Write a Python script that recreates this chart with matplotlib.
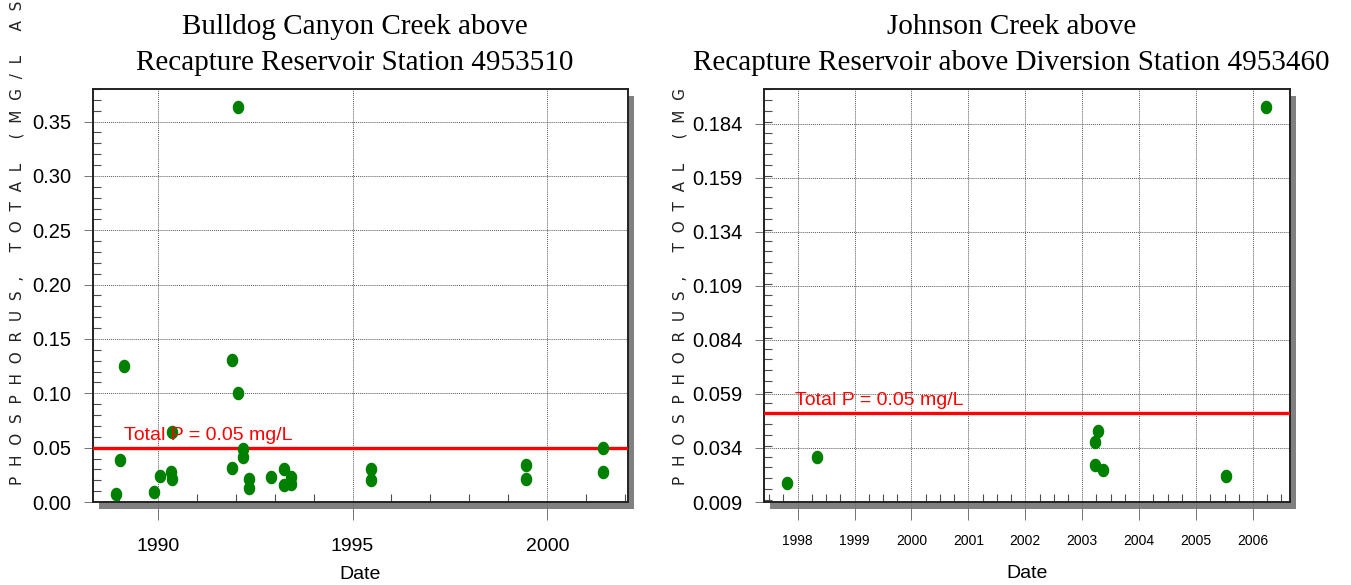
import matplotlib
matplotlib.use('Agg')
import matplotlib.pyplot as plt
import matplotlib.transforms as mtransforms
import numpy as np
from matplotlib import font_manager
from matplotlib.path import Path
from matplotlib.patches import Rectangle
from matplotlib.ticker import MultipleLocator

# Bulldog Canyon Creek above Recapture Reservoir, station 4953510
bulldog_dates = [1988.94, 1989.04, 1989.13, 1989.91, 1990.05, 1990.34, 1990.37, 1990.37,
                 1991.90, 1991.90, 1992.06, 1992.07, 1992.20, 1992.20, 1992.35, 1992.35,
                 1992.91, 1993.23, 1993.23, 1993.42, 1993.42,
                 1995.47, 1995.47, 1999.46, 1999.46, 2001.43, 2001.43]
bulldog_phos = [0.007, 0.039, 0.125, 0.009, 0.024, 0.028, 0.021, 0.064,
                0.131, 0.031, 0.100, 0.363, 0.049, 0.041, 0.021, 0.013,
                0.023, 0.030, 0.016, 0.023, 0.017,
                0.030, 0.020, 0.034, 0.021, 0.050, 0.028]
bulldog_yticks = [0.00, 0.05, 0.10, 0.15, 0.20, 0.25, 0.30, 0.35]
bulldog_xticks = [1990, 1995, 2000]

# Johnson Creek above Recapture Reservoir above Diversion, station 4953460
johnson_dates = [1997.81, 1998.34, 2003.22, 2003.22, 2003.27, 2003.37, 2005.52, 2006.23]
johnson_phos = [0.018, 0.030, 0.037, 0.026, 0.042, 0.024, 0.021, 0.192]
johnson_yticks = [0.009, 0.034, 0.059, 0.084, 0.109, 0.134, 0.159, 0.184]
johnson_xticks = [1998, 1999, 2000, 2001, 2002, 2003, 2004, 2005, 2006]

limit = 0.05
limit_label = 'Total P = 0.05 mg/L'
# the y label is cut off at the top in the original, only this much shows
ylabel_left = 'PHOSPHORUS, TOTAL (MG/L AS'
ylabel_right = 'PHOSPHORUS, TOTAL (MG'


def pick_font(names):
    have = set(f.name for f in font_manager.fontManager.ttflist)
    for n in names:
        if n in have:
            return n
    return 'DejaVu Sans'


narrow = pick_font(['Liberation Sans Narrow', 'Liberation Sans', 'DejaVu Sans'])
serif = pick_font(['Liberation Serif', 'DejaVu Serif'])

# slightly tall ellipse for the dots
t = np.linspace(0, 2 * np.pi, 40)
dot = Path(np.column_stack([0.85 * np.cos(t), np.sin(t)]))

fig = plt.figure(figsize=(13.51, 5.85), dpi=100)


def draw_panel(rect, dates, phos, yticks, ylabels, xticks, xlim, ylim,
               yminor, xminor, title, title_x, label_xy, xfont, xpad, datepad):
    ax = fig.add_axes(rect)
    ax.set_facecolor('white')
    shadow_tr = mtransforms.offset_copy(ax.transAxes, fig, x=6, y=-7, units='dots')
    fig.patches.append(Rectangle((0, 0), 1, 1, transform=shadow_tr, facecolor='#808080',
                                 edgecolor='none', zorder=-1))

    ax.scatter(dates, phos, marker=dot, s=95, color='#008000', zorder=4, linewidths=0)
    ax.axhline(limit, color='red', lw=2.4, zorder=3)
    ax.text(label_xy[0], label_xy[1], limit_label, color='red', fontsize=14,
            family=narrow, zorder=5)

    ax.set_xlim(*xlim)
    ax.set_ylim(*ylim)
    ax.set_yticks(yticks)
    ax.set_yticklabels(ylabels, family=narrow, fontsize=14.5)
    ax.set_xticks(xticks)
    ax.set_xticklabels([str(x) for x in xticks], family=narrow, fontsize=xfont)
    ax.yaxis.set_minor_locator(MultipleLocator(yminor))
    ax.xaxis.set_minor_locator(MultipleLocator(xminor))

    ax.grid(True, which='major', color='0.35', lw=0.7, ls=(0, (1, 1)))
    ax.tick_params(axis='y', which='major', direction='out', length=6.5, width=0.7,
                   color='0.45', pad=9)
    ax.tick_params(axis='x', which='major', direction='out', length=13, width=0.7,
                   color='0.45', pad=xpad)
    ax.tick_params(which='minor', direction='in', length=6, width=0.8, color='0.3')
    ax.tick_params(axis='y', which='minor', left=True, right=False)
    ax.tick_params(axis='x', which='minor', bottom=True, top=False)
    for s in ax.spines.values():
        s.set_linewidth(1.4)
        s.set_color('#222222')
    ax.set_xlabel('Date', family=narrow, fontsize=14, labelpad=datepad)
    ax.set_title(title, family=serif, fontsize=21, pad=14, linespacing=1.5, x=title_x)
    return ax


draw_panel([93 / 1351, 83 / 585, 535 / 1351, 413 / 585],
           bulldog_dates, bulldog_phos, bulldog_yticks,
           ['%.2f' % v for v in bulldog_yticks], bulldog_xticks,
           (1988.34, 2002.07), (0.0, 0.380), 0.01, 1,
           'Bulldog Canyon Creek above\nRecapture Reservoir Station 4953510', 0.49,
           (1989.13, 0.057), 14, 13, 8)

draw_panel([764 / 1351, 83 / 585, 526 / 1351, 413 / 585],
           johnson_dates, johnson_phos, johnson_yticks,
           ['%.3f' % v for v in johnson_yticks], johnson_xticks,
           (1997.41, 2006.65), (0.009, 0.2002), 0.005, 0.25,
           'Johnson Creek above\nRecapture Reservoir above Diversion Station 4953460', 0.4705,
           (1997.96, 0.054), 10, 10, 12)

fig.text(17 / 1351, 100 / 585, '  '.join(list(ylabel_left)), rotation=90,
         ha='center', va='bottom', fontsize=11, color='#222222')
fig.text(680 / 1351, 100 / 585, '  '.join(list(ylabel_right)), rotation=90,
         ha='center', va='bottom', fontsize=11, color='#222222')

fig.savefig('out.png', dpi=100)
